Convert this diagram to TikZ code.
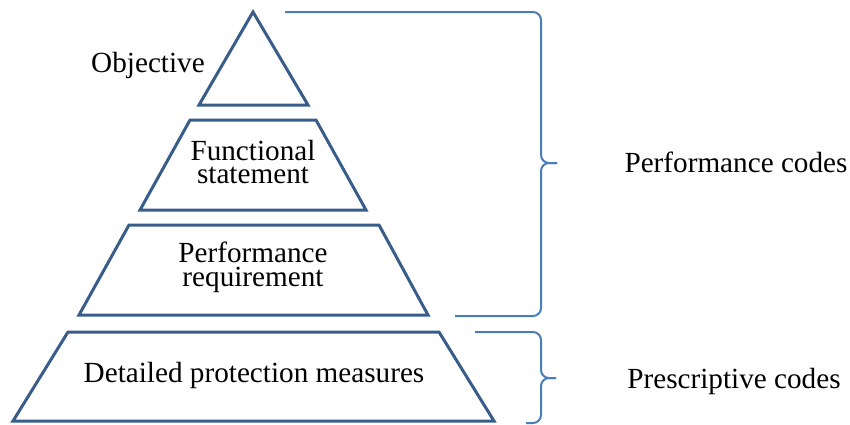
\documentclass[tikz,border=0pt]{standalone}
\usepackage{fontspec}
\setmainfont{Liberation Serif}
\definecolor{shapeblue}{HTML}{385D8A}
\definecolor{bracketblue}{HTML}{4A7EBB}
\begin{document}
\begin{tikzpicture}[x=0.5pt,y=-0.5pt,
  level/.style={draw=shapeblue,line width=1.5pt,line join=miter},
  brace/.style={draw=bracketblue,line width=1pt,rounded corners=4pt},
  lbl/.style={inner sep=0pt,align=center,font=\fontsize{14.6}{11.9}\selectfont}]
\useasboundingbox (0,0) rectangle (850,424);
% pyramid levels
\draw[level] (253,12) -- (308,105) -- (199,105) -- cycle;
\draw[level] (190,120) -- (316,120) -- (366,210) -- (140,210) -- cycle;
\draw[level] (129,225) -- (379,225) -- (428,315) -- (79,315) -- cycle;
\draw[level] (68,332) -- (439,332) -- (494,421) -- (13,421) -- cycle;
% labels
\node[lbl,anchor=base] (obj) at (148,72) {Objective};
\node[lbl] (fun) at (253,162) {Functional\\statement};
\node[lbl] (req) at (253,267) {Performance\\requirement};
\node[lbl,anchor=base] (det) at (254,382) {Detailed protection measures};
\node[lbl,anchor=base] (perf) at (736,172) {Performance codes};
\node[lbl,anchor=base] (pres) at (734,388) {Prescriptive codes};
% brackets
\coordinate (b1a) at (285,12);
\coordinate (b1b) at (455,316);
\coordinate (b1t) at (557,163);
\draw[brace] (b1a) -- (541,12) -- (541,163) -- (b1t);
\draw[brace] (b1b) -- (541,316) -- (541,163) -- (b1t);
\coordinate (b2a) at (475,332);
\coordinate (b2b) at (526,423);
\coordinate (b2t) at (556,378);
\draw[brace] (b2a) -- (541,332) -- (541,378) -- (b2t);
\draw[brace] (b2b) -- (541,423) -- (541,378) -- (b2t);
\end{tikzpicture}
\end{document}
